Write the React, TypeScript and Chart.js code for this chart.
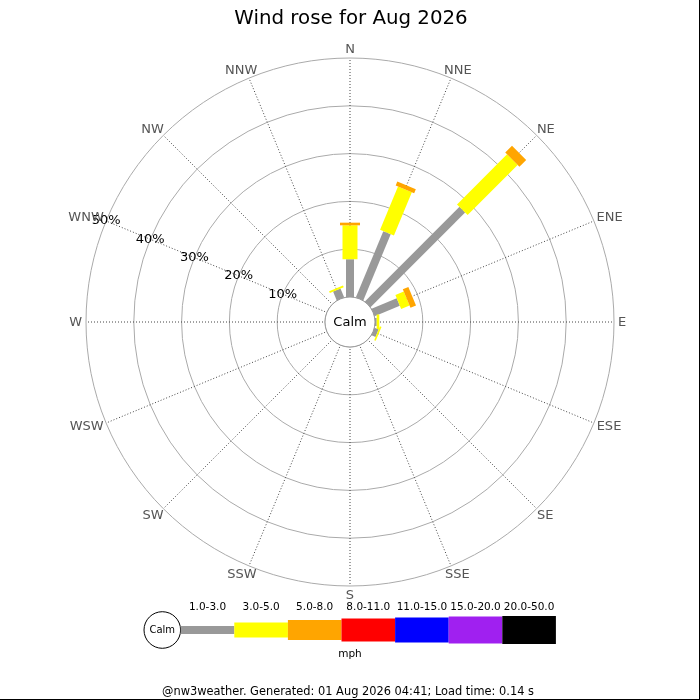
import React, { useEffect, useRef } from "react";
import { Chart, registerables } from "chart.js";

Chart.register(...registerables);

const titleText = "Wind rose for Aug 2026";
const footerText = "@nw3weather. Generated: 01 Aug 2026 04:41; Load time: 0.14 s";
const unitText = "mph";
const calmText = "Calm";

const directions = ["N", "NNE", "NE", "ENE", "E", "ESE", "SE", "SSE", "S", "SSW", "SW", "WSW", "W", "WNW", "NW", "NNW"];
const speedBins = ["1.0-3.0", "3.0-5.0", "5.0-8.0", "8.0-11.0", "11.0-15.0", "15.0-20.0", "20.0-50.0"];
const binColors = ["#999999", "#ffff00", "#ffa500", "#ff0000", "#0000ff", "#a020f0", "#000000"];
const binWidths = [8, 15, 20, 23, 25, 27, 28];

// percent of time, per direction (N..NNW), per speed bin
const speed1to3 = [7.9, 15.0, 28.0, 5.7, 0.35, 0.9, 0, 0, 0, 0, 0, 0, 0, 0, 0, 2.0];
const speed3to5 = [7.1, 9.8, 14.8, 1.9, 0.55, 0.35, 0, 0, 0, 0, 0, 0, 0, 0, 0, 0.4];
const speed5to8 = [0.55, 0.9, 2.0, 1.25, 0, 0, 0, 0, 0, 0, 0, 0, 0, 0, 0, 0];
const speed8to11 = [0, 0, 0, 0, 0, 0, 0, 0, 0, 0, 0, 0, 0, 0, 0, 0];
const speed11to15 = [0, 0, 0, 0, 0, 0, 0, 0, 0, 0, 0, 0, 0, 0, 0, 0];
const speed15to20 = [0, 0, 0, 0, 0, 0, 0, 0, 0, 0, 0, 0, 0, 0, 0, 0];
const speed20to50 = [0, 0, 0, 0, 0, 0, 0, 0, 0, 0, 0, 0, 0, 0, 0, 0];
const series = [speed1to3, speed3to5, speed5to8, speed8to11, speed11to15, speed15to20, speed20to50];

const percentTicks = [10, 20, 30, 40, 50];
const tickLabelDirection = 13; // WNW

const rMax = 50;
const calmFraction = 25 / 264;
const rMin = (-rMax * calmFraction) / (1 - calmFraction);

const FONT = '"DejaVu Sans", sans-serif';

const roseDrawer = {
  id: "roseDrawer",
  afterDraw(chart: any) {
    const ctx = chart.ctx;
    const scale = chart.scales.r;
    const cx = scale.xCenter;
    const cy = scale.yCenter;
    const calmR = scale.getDistanceFromCenterForValue(0);
    ctx.save();

    // calm circle
    ctx.beginPath();
    ctx.arc(cx, cy, calmR, 0, Math.PI * 2);
    ctx.fillStyle = "#ffffff";
    ctx.fill();
    ctx.lineWidth = 1;
    ctx.strokeStyle = "#999999";
    ctx.stroke();

    // bars
    ctx.lineCap = "butt";
    for (let i = 0; i < directions.length; i++) {
      let cum = 0;
      chart.data.datasets.forEach((ds: any, k: number) => {
        const v = ds.data[i];
        if (v > 0) {
          const p1 = scale.getPointPositionForValue(i, cum);
          const p2 = scale.getPointPositionForValue(i, cum + v);
          ctx.beginPath();
          ctx.moveTo(p1.x, p1.y);
          ctx.lineTo(p2.x, p2.y);
          ctx.lineWidth = binWidths[k];
          ctx.strokeStyle = binColors[k];
          ctx.stroke();
        }
        cum += v;
      });
    }

    // calm text
    ctx.fillStyle = "#000000";
    ctx.font = `13px ${FONT}`;
    ctx.textAlign = "center";
    ctx.textBaseline = "middle";
    ctx.fillText(calmText, cx, cy + 1);

    // percent labels
    percentTicks.forEach((v) => {
      const p = scale.getPointPositionForValue(tickLabelDirection, v);
      ctx.fillText(v + "%", p.x, p.y);
    });

    // compass labels
    ctx.fillStyle = "#555555";
    const capH = 9.5;
    directions.forEach((d, i) => {
      const p = scale.getPointPosition(i, scale.drawingArea + 4);
      const th = (i * 2 * Math.PI) / directions.length;
      const w = ctx.measureText(d).width;
      const x = p.x + (w / 2) * Math.sin(th);
      const y = p.y - (capH / 2) * Math.cos(th);
      ctx.fillText(d, x, y + 0.5);
    });

    // title
    ctx.fillStyle = "#000000";
    ctx.font = `19.8px ${FONT}`;
    ctx.fillText(titleText, 351, 18.5);

    // legend
    const lx0 = 180.7;
    const bw = 53.6;
    const ly = 630;
    ctx.beginPath();
    ctx.arc(162.3, ly, 18.3, 0, Math.PI * 2);
    ctx.fillStyle = "#ffffff";
    ctx.fill();
    ctx.strokeStyle = "#000000";
    ctx.lineWidth = 1;
    ctx.stroke();
    ctx.fillStyle = "#000000";
    ctx.font = `10px ${FONT}`;
    ctx.fillText(calmText, 162.3, ly + 0.5);
    speedBins.forEach((b, k) => {
      const x = lx0 + k * bw;
      const h = binWidths[k];
      ctx.fillStyle = binColors[k];
      ctx.fillRect(x, ly - h / 2, bw, h);
      ctx.fillStyle = "#000000";
      ctx.font = `10.5px ${FONT}`;
      ctx.fillText(b, x + bw / 2, 607);
    });
    ctx.font = `10.5px ${FONT}`;
    ctx.fillText(unitText, 350, 654);

    // footer
    ctx.font = `11.4px ${FONT}`;
    ctx.fillText(footerText, 348, 692);

    // frame edges
    ctx.fillStyle = "#000000";
    ctx.fillRect(699, 0, 1, 700);
    ctx.fillRect(0, 699, 700, 1);

    ctx.restore();
  },
};

export default function App() {
  const ref = useRef<HTMLCanvasElement | null>(null);
  useEffect(() => {
    if (!ref.current) return;
    const chart = new Chart(ref.current, {
      type: "radar",
      data: {
        labels: directions,
        datasets: speedBins.map((b, k) => ({
          label: b,
          data: series[k],
          showLine: false,
          pointRadius: 0,
          pointHoverRadius: 0,
          borderWidth: 0,
          borderColor: "transparent",
          backgroundColor: "transparent",
          fill: false,
        })),
      },
      options: {
        responsive: false,
        animation: false,
        events: [],
        layout: { padding: { left: 86, right: 86, top: 58, bottom: 114 } },
        plugins: {
          legend: { display: false },
          tooltip: { enabled: false },
          title: { display: false },
        },
        scales: {
          r: {
            min: rMin,
            max: rMax,
            afterBuildTicks: (s: any) => {
              s.ticks = [0, ...percentTicks].map((v) => ({ value: v }));
            },
            ticks: { display: false },
            pointLabels: { display: false },
            grid: { color: "#aaaaaa", lineWidth: 1, circular: true },
            angleLines: { color: "#444444", lineWidth: 1, borderDash: [1, 2] },
          },
        },
      } as any,
      plugins: [roseDrawer],
    });
    return () => chart.destroy();
  }, []);
  return (
    <div style={{ position: "fixed", left: 0, top: 0, width: 700, height: 700, background: "#ffffff" }}>
      <canvas ref={ref} width={700} height={700} style={{ width: 700, height: 700, display: "block" }} />
    </div>
  );
}
